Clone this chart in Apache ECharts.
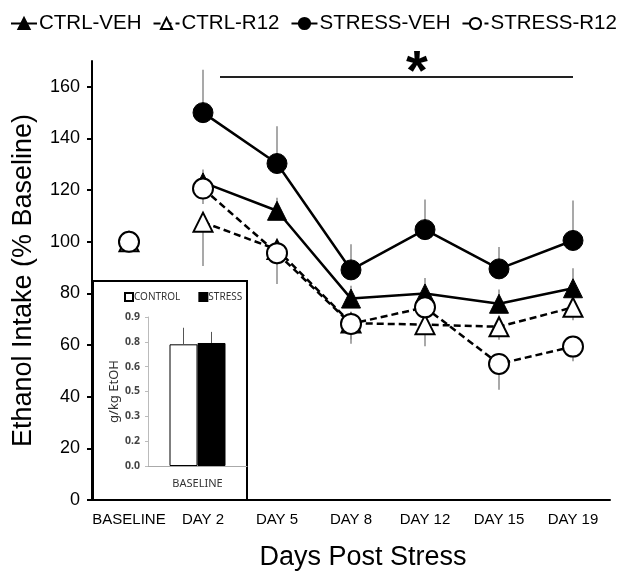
<!DOCTYPE html>
<html>
<head>
<meta charset="utf-8">
<script src="https://cdn.jsdelivr.net/npm/echarts@6/dist/echarts.min.js"></script>
<style>
  html, body { margin: 0; padding: 0; background: #fff; }
  #container { width: 629px; height: 583px; }
</style>
</head>
<body>
<div id="container"></div>
<script>
// 数据
var categories = ['BASELINE', 'DAY 2', 'DAY 5', 'DAY 8', 'DAY 12', 'DAY 15', 'DAY 19'];
var yTicks = [0, 20, 40, 60, 80, 100, 120, 140, 160];

var ctrlVeh = [100, 123, 112, 78, 80, 76, 82];
var ctrlR12 = [100, 107.6, 97, 68.5, 67.9, 67.1, 74.6];
var stressVeh = [100, 150, 130.3, 89.1, 104.7, 89.5, 100.5];
var stressR12 = [100, 120.6, 95.6, 68.2, 74.6, 52.7, 59.4];

// 误差（VEH向上，R12向下）
var ctrlVehErr = [0, 5, 5, 5, 6, 5.5, 7.7];
var ctrlR12Err = [0, 17, 6, 8, 8.4, 5, 5];
var stressVehErr = [0, 16.6, 14.4, 9.9, 11.7, 8.5, 15.5];
var stressR12Err = [0, 6, 12, 6, 5, 10, 5.7];

// 小图
var insetCategories = ['BASELINE'];
var insetControl = [0.735];
var insetStress = [0.743];
var insetControlErr = [0.1];
var insetStressErr = [0.067];
var insetTickLabels = ['0.0', '0.2', '0.3', '0.5', '0.6', '0.8', '0.9'];

var myChart = echarts.init(document.getElementById('container'));
var FONT = 'Liberation Sans, Arial, sans-serif';
var INSET_FONT = 'Noto Sans, sans-serif';

function lineData(arr) {
    return arr.map(function (v, i) { return i === 0 ? '-' : v; });
}

function errorSeries(means, errs, dir, xi, offset) {
    return {
        type: 'custom',
        xAxisIndex: xi, yAxisIndex: xi,
        z: xi === 0 ? 1 : 6,
        silent: true,
        data: means.map(function (m, i) { return [i, m, m + dir * errs[i]]; }),
        encode: {x: 0, y: [1, 2]},
        renderItem: function (params, api) {
            var p1 = api.coord([api.value(0), api.value(1)]);
            var p2 = api.coord([api.value(0), api.value(2)]);
            return {
                type: 'line',
                shape: {x1: p1[0] + offset, y1: p1[1], x2: p2[0] + offset, y2: p2[1]},
                style: {stroke: xi === 0 ? '#8c8c8c' : '#555', lineWidth: xi === 0 ? 1.5 : 1}
            };
        }
    };
}

var openStyle = {color: '#fff', borderColor: '#000', borderWidth: 2, opacity: 1};
var fillStyle = {color: '#000', borderColor: '#000', borderWidth: 1, opacity: 1};

function mainSeries(name, arr, symbol, item, dashed) {
    return {
        name: name,
        type: 'line',
        data: lineData(arr),
        symbol: symbol,
        symbolSize: symbol === 'circle' ? 20 : 19,
        showAllSymbol: true,
        connectNulls: false,
        z: 3,
        lineStyle: {color: '#000', width: 2.5, type: dashed ? [7, 4] : 'solid'},
        itemStyle: item
    };
}

function baseSeries(name, arr, symbol, item) {
    return {
        name: name,
        type: 'scatter',
        data: [[0, arr[0]]],
        symbol: symbol,
        symbolSize: symbol === 'circle' ? 20 : 19,
        z: 3,
        itemStyle: item
    };
}

var option = {
    animation: false,
    backgroundColor: '#fff',
    textStyle: {fontFamily: FONT},
    legend: [{
        data: ['CTRL-VEH', 'CTRL-R12', 'STRESS-VEH', 'STRESS-R12'],
        left: 5, top: 8, width: 625,
        itemWidth: 26, itemHeight: 14, itemGap: 11,
        textStyle: {fontFamily: FONT, fontSize: 20.5, color: '#000', padding: [0, 0, 0, -3]}
    }, {
        data: ['CONTROL', 'STRESS'],
        left: 119, top: 287,
        itemWidth: 8, itemHeight: 8, itemGap: 18,
        icon: 'rect',
        z: 6,
        textStyle: {fontFamily: INSET_FONT, fontSize: 10, color: '#333', padding: [0, 0, 0, -4]}
    }],
    grid: [
        {left: 92, right: 19, top: 61, bottom: 83},
        {left: 148, right: 382, top: 317, bottom: 117}
    ],
    xAxis: [{
        type: 'category',
        data: categories,
        boundaryGap: true,
        name: 'Days Post Stress',
        nameLocation: 'middle',
        nameGap: 44,
        nameTextStyle: {fontFamily: FONT, fontSize: 27, color: '#000', padding: [0, 0, 0, 24]},
        axisLine: {lineStyle: {color: '#000', width: 2}},
        axisTick: {length: 4, lineStyle: {color: '#000', width: 2}},
        axisLabel: {fontFamily: FONT, fontSize: 15, color: '#000', margin: 12, interval: 0}
    }, {
        type: 'category',
        gridIndex: 1,
        data: insetCategories,
        z: 6,
        axisLine: {lineStyle: {color: '#aaa', width: 1}},
        axisTick: {show: false},
        axisLabel: {fontFamily: INSET_FONT, fontSize: 11, color: '#333', margin: 12}
    }],
    yAxis: [{
        type: 'value',
        min: 0, max: 170,
        name: 'Ethanol Intake (% Baseline)',
        nameLocation: 'middle',
        nameGap: 55,
        nameTextStyle: {fontFamily: FONT, fontSize: 27, color: '#000'},
        axisLine: {show: true, lineStyle: {color: '#000', width: 2}},
        axisTick: {show: true, length: 5, customValues: yTicks, lineStyle: {color: '#000', width: 2}},
        axisLabel: {fontFamily: FONT, fontSize: 18, color: '#000', margin: 12, customValues: yTicks},
        splitLine: {show: false}
    }, {
        type: 'value',
        gridIndex: 1,
        min: 0, max: 0.9, interval: 0.15,
        z: 6,
        name: 'g/kg EtOH',
        nameLocation: 'middle',
        nameGap: 26,
        nameTextStyle: {fontFamily: INSET_FONT, fontSize: 13, color: '#333'},
        axisLine: {show: true, lineStyle: {color: '#bbb', width: 1}},
        axisTick: {show: true, length: 3, lineStyle: {color: '#bbb'}},
        axisLabel: {
            fontFamily: INSET_FONT, fontSize: 10.5, fontWeight: 'bold', color: '#444', margin: 8,
            formatter: function (v) { return insetTickLabels[Math.round(v / 0.15)]; }
        },
        splitLine: {show: false}
    }],
    graphic: [{
        type: 'rect',
        z: 4,
        shape: {x: 93, y: 281, width: 154, height: 219},
        style: {fill: '#fff', stroke: '#000', lineWidth: 2}
    }, {
        type: 'line',
        z: 4,
        shape: {x1: 220, y1: 77, x2: 573, y2: 77},
        style: {stroke: '#222', lineWidth: 2}
    }, {
        type: 'text',
        z: 4,
        x: 417, y: 74,
        style: {text: '*', font: 'bold 56px ' + FONT, fill: '#000', textAlign: 'center', textVerticalAlign: 'middle'}
    }],
    series: [
        errorSeries(ctrlVeh, ctrlVehErr, 1, 0, 0),
        errorSeries(ctrlR12, ctrlR12Err, -1, 0, 0),
        errorSeries(stressVeh, stressVehErr, 1, 0, 0),
        errorSeries(stressR12, stressR12Err, -1, 0, 0),
        mainSeries('CTRL-VEH', ctrlVeh, 'triangle', fillStyle, false),
        mainSeries('CTRL-R12', ctrlR12, 'triangle', openStyle, true),
        mainSeries('STRESS-VEH', stressVeh, 'circle', fillStyle, false),
        mainSeries('STRESS-R12', stressR12, 'circle', openStyle, true),
        baseSeries('CTRL-VEH', ctrlVeh, 'triangle', fillStyle),
        baseSeries('CTRL-R12', ctrlR12, 'triangle', openStyle),
        baseSeries('STRESS-VEH', stressVeh, 'circle', fillStyle),
        baseSeries('STRESS-R12', stressR12, 'circle', openStyle),
        {
            name: 'CONTROL', type: 'bar', xAxisIndex: 1, yAxisIndex: 1,
            data: insetControl, barWidth: 28, barGap: '0%', z: 5,
            itemStyle: {color: '#fff', borderColor: '#000', borderWidth: 1}
        },
        {
            name: 'STRESS', type: 'bar', xAxisIndex: 1, yAxisIndex: 1,
            data: insetStress, barWidth: 28, barGap: '0%', z: 5,
            itemStyle: {color: '#000', borderColor: '#000', borderWidth: 1}
        },
        errorSeries(insetControl, insetControlErr, 1, 1, -14),
        errorSeries(insetStress, insetStressErr, 1, 1, 14)
    ]
};
myChart.setOption(option);
</script>
</body>
</html>
